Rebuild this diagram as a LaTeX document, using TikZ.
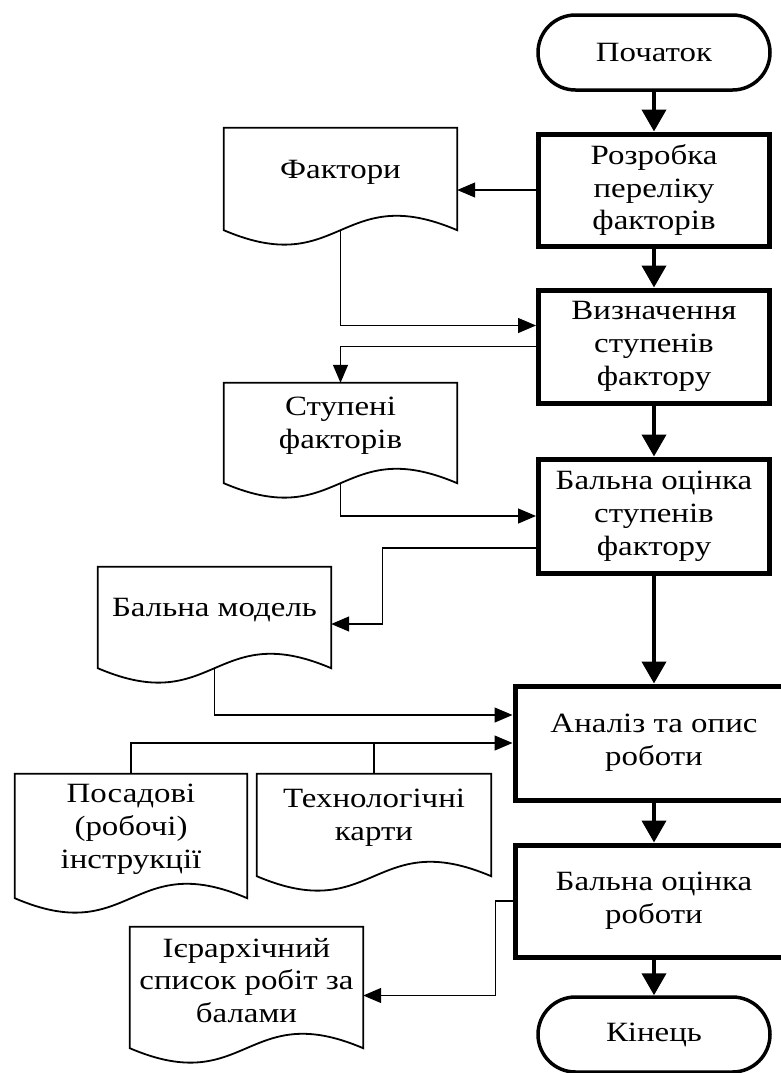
\documentclass[tikz,border=0pt]{standalone}
\usepackage{fontspec}
\setmainfont[FakeStretch=1.18]{Liberation Serif}
\usetikzlibrary{arrows.meta,calc,shapes.misc}

% outline of a "document" symbol: straight top and sides, wavy bottom
\newcommand\docoutline[1]{%
  \draw[docline] (#1.south west) -- (#1.north west) -- (#1.north east) -- (#1.south east)
    .. controls ($(#1.south)+(0,-50)$) and ($(#1.south)+(0,50)$) .. (#1.south west) -- cycle;}

\begin{document}
\begin{tikzpicture}[x=1bp,y=-1bp,
  every node/.style={font=\fontsize{28}{33}\selectfont, inner sep=0pt},
  procbox/.style={draw, line width=5bp, minimum width=231bp, align=center},
  widebox/.style={procbox, minimum width=278bp},
  termbox/.style={draw, rounded rectangle, line width=3.5bp, minimum width=232bp, minimum height=75bp},
  docbox/.style={align=center},
  flowarrow/.style={line width=4bp, -{Triangle[width=24bp,length=22bp]}},
  datarrow/.style={line width=1.3bp, -{Triangle[width=15bp,length=18bp]}},
  dataline/.style={line width=1.3bp},
  docline/.style={line width=1.8bp, line join=miter}
]
\useasboundingbox (0,0) rectangle (781,1073);

% main flow
\node[termbox] (start) at (654,52.5) {Початок};
\node[procbox, minimum height=112bp] (box1) at (654,190) {Розробка\\переліку\\факторів};
\node[procbox, minimum height=113bp] (box2) at (654,346.5) {Визначення\\ступенів\\фактору};
\node[procbox, minimum height=114bp] (box3) at (654,516) {Бальна оцінка\\ступенів\\фактору};
\node[widebox, minimum height=114bp] (box4) at (654,743) {Аналіз та опис\\роботи};
\node[widebox, minimum height=112bp] (box5) at (654,901) {Бальна оцінка\\роботи};
\node[termbox] (end) at (654,1034.5) {Кінець};

% documents
\node[docbox, minimum width=233bp, minimum height=102bp,
  label={[align=center,yshift=7bp]center:Фактори}] (fact) at (340.5,179) {};
\node[docbox, minimum width=233bp, minimum height=100bp,
  label={[align=center,yshift=7bp]center:Ступені\\факторів}] (step) at (340.5,433) {};
\node[docbox, minimum width=233bp, minimum height=101bp,
  label={[align=center,yshift=7bp]center:Бальна модель}] (model) at (214.5,617.5) {};
\node[docbox, minimum width=232bp, minimum height=124bp,
  label={[align=center,yshift=7bp]center:Посадові\\(робочі)\\інструкції}] (posad) at (131,836) {};
\node[docbox, minimum width=234bp, minimum height=102bp,
  label={[align=center,yshift=7bp]center:Технологічні\\карти}] (tech) at (374,825) {};
\node[docbox, minimum width=233bp, minimum height=121bp,
  label={[align=center,yshift=7bp]center:Ієрархічний\\список робіт за\\балами}] (hier) at (246.5,987.5) {};

\docoutline{fact}
\docoutline{step}
\docoutline{model}
\docoutline{posad}
\docoutline{tech}
\docoutline{hier}

% main flow arrows
\draw[flowarrow] (start.south) -- (box1.north);
\draw[flowarrow] (box1.south) -- (box2.north);
\draw[flowarrow] (box2.south) -- (box3.north);
\draw[flowarrow] (box3.south) -- (box4.north);
\draw[flowarrow] (box4.south) -- (box5.north);
\draw[flowarrow] (box5.south) -- (end.north);

% data connectors
\draw[datarrow] (box1.west) -- (box1.west -| fact.east);
\draw[datarrow] (fact.south) |- ([yshift=21bp]box2.west);
\draw[datarrow] (box2.west) -| (step.north);
\draw[datarrow] (step.south) |- (box3.west);
\draw[datarrow] ([yshift=-32bp]box3.west) -| ([xshift=51bp,yshift=-6.5bp]model.east) -- ([yshift=-6.5bp]model.east);
\draw[datarrow] (model.south) |- ([yshift=28bp]box4.west);
\draw[datarrow] (posad.north) |- (box4.west);
\draw[dataline] (tech.north) -- (tech.north |- box4.west);
\draw[datarrow] (box5.west) -| ([xshift=132bp,yshift=-8bp]hier.east) -- ([yshift=-8bp]hier.east);
\end{tikzpicture}
\end{document}
